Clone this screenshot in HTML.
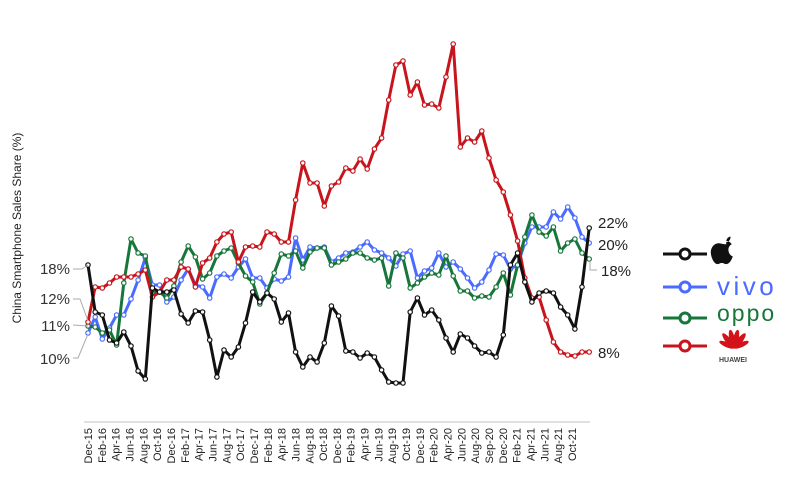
<!DOCTYPE html>
<html><head><meta charset="utf-8"><style>
html,body{margin:0;padding:0;background:#fff;}
svg{display:block;font-family:"Liberation Sans",Arial,sans-serif;}
</style></head><body>
<svg id="chart" width="800" height="486" viewBox="0 0 800 486">
<text transform="translate(21,228) rotate(-90)" text-anchor="middle" font-size="12" fill="#222">China Smartphone Sales Share (%)</text>
<line x1="84" y1="422" x2="590" y2="422" stroke="#e0e0e0" stroke-width="2"/>
<g id="xticks"></g>
<g id="series"></g>
<g font-size="15" fill="#333" text-anchor="end">
 <polyline points="73,269 82,269 88,265" fill="none" stroke="#aaa" stroke-width="1"/>
 <text x="70" y="274">18%</text>
 <polyline points="73,299 80,299 88,321" fill="none" stroke="#aaa" stroke-width="1"/>
 <text x="70" y="304">12%</text>
 <polyline points="73,325 88,326" fill="none" stroke="#aaa" stroke-width="1"/>
 <text x="70" y="331">11%</text>
 <polyline points="73,358 78,358 88,334" fill="none" stroke="#aaa" stroke-width="1"/>
 <text x="70" y="364">10%</text>
</g>
<g font-size="15" fill="#222">
 <text x="598" y="228">22%</text>
 <text x="598" y="250">20%</text>
 <polyline points="590,261 590,270 597,270" fill="none" stroke="#aaa" stroke-width="1"/>
 <text x="601" y="276">18%</text>
 <text x="598" y="358">8%</text>
</g>
<g>
 <g>
  <line x1="663" y1="254" x2="707" y2="254" stroke="#111" stroke-width="3"/>
  <circle cx="685" cy="254" r="5" fill="#fff" stroke="#111" stroke-width="3"/>
  <path transform="translate(-2,-1) scale(1.1) translate(-66,-23)" d="M728,246 c-3,0 -5,-1 -7,-1 c-4,0 -7,4 -7,8 c0,5 3,11 6,11 c2,0 2,-1 4,-1 c2,0 2,1 4,1 c3,0 5,-4 6,-7 c-3,-1 -4,-4 -4,-6 c0,-2 1,-4 3,-5 c-1,-2 -3,-3 -5,-3 z M728,244 c0,-3 2,-5 4,-5 c0,3 -2,5 -4,5 z" fill="#111"/>
 </g>
 <g>
  <line x1="663" y1="287" x2="707" y2="287" stroke="#4a6bff" stroke-width="3"/>
  <circle cx="685" cy="287" r="5" fill="#fff" stroke="#4a6bff" stroke-width="3"/>
  <text x="717" y="295" font-size="26" fill="#4a6bff" letter-spacing="3.5">vivo</text>
 </g>
 <g>
  <line x1="663" y1="318" x2="707" y2="318" stroke="#17763a" stroke-width="3"/>
  <circle cx="685" cy="318" r="5" fill="#fff" stroke="#17763a" stroke-width="3"/>
  <text x="717" y="321" font-size="23" fill="#17763a" letter-spacing="2">oppo</text>
 </g>
 <g>
  <line x1="663" y1="346" x2="707" y2="346" stroke="#c8141c" stroke-width="3"/>
  <circle cx="685" cy="346" r="5" fill="#fff" stroke="#c8141c" stroke-width="3"/>
  <g fill="#d3121a">
   <ellipse cx="734" cy="339" rx="2.8" ry="9.5" transform="rotate(-12 734 348)"/>
   <ellipse cx="734" cy="339" rx="2.8" ry="9.5" transform="rotate(12 734 348)"/>
   <ellipse cx="734" cy="339" rx="2.8" ry="9.5" transform="rotate(-38 734 348)"/>
   <ellipse cx="734" cy="339" rx="2.8" ry="9.5" transform="rotate(38 734 348)"/>
   <ellipse cx="734" cy="340" rx="2.5" ry="8" transform="rotate(-66 734 348)"/>
   <ellipse cx="734" cy="340" rx="2.5" ry="8" transform="rotate(66 734 348)"/>
  </g>
  <text x="733" y="362" font-size="7" font-weight="bold" text-anchor="middle" fill="#444">HUAWEI</text>
 </g>
</g>
</svg>
<script>
const tickLabels = ["Dec-15","Feb-16","Apr-16","Jun-16","Aug-16","Oct-16","Dec-16","Feb-17","Apr-17","Jun-17","Aug-17","Oct-17","Dec-17","Feb-18","Apr-18","Jun-18","Aug-18","Oct-18","Dec-18","Feb-19","Apr-19","Jun-19","Aug-19","Oct-19","Dec-19","Feb-20","Apr-20","Jun-20","Aug-20","Sep-20","Dec-20","Feb-21","Apr-21","Jun-21","Aug-21","Oct-21"];
const appleShare = [15.5,10.8,10.5,8.0,7.7,8.8,7.4,4.9,4.1,13.2,12.8,12.8,13.0,10.6,9.7,10.9,10.8,8.0,4.3,7.0,6.3,7.3,9.7,12.8,11.8,12.7,12.1,9.8,10.7,6.8,5.3,6.3,5.8,7.7,11.4,10.4,6.9,6.8,6.2,6.7,6.3,5.0,3.8,3.7,3.7,10.8,12.2,10.5,11.0,10.0,8.2,6.8,8.6,8.2,7.4,6.7,6.8,6.3,8.5,15.5,16.7,13.8,11.8,12.7,12.9,12.7,11.3,10.5,9.1,13.3,19.2];
const vivoShare = [8.7,10.3,8.1,9.2,10.5,10.5,12.1,14.0,16.2,13.5,13.5,11.8,12.3,14.0,15.1,13.5,13.3,12.2,14.3,14.6,14.2,15.3,16.1,14.2,14.2,13.2,14.1,13.9,14.3,18.2,16.0,17.3,17.2,17.3,15.8,16.2,16.7,16.8,17.3,17.8,17.0,16.7,16.2,15.4,16.6,16.9,14.2,14.9,15.2,16.7,15.3,15.8,15.1,14.2,13.2,13.8,15.0,16.6,16.5,15.1,15.5,17.7,19.3,19.3,19.3,20.8,20.1,21.3,20.2,18.3,17.7];
const oppoShare = [9.4,9.3,8.7,9.0,7.5,13.7,18.1,16.7,16.4,12.7,12.8,12.2,13.4,15.8,17.4,16.3,14.1,14.7,16.4,16.9,17.2,15.7,14.4,13.8,11.6,12.7,14.7,16.6,16.4,16.9,15.2,16.8,17.2,17.2,15.5,15.8,16.1,16.7,16.7,16.2,16.0,16.2,13.4,16.7,16.2,13.2,13.7,14.3,14.7,14.5,16.4,14.4,12.9,12.9,12.2,12.4,12.3,13.3,14.7,12.5,15.5,18.3,20.5,18.8,18.4,19.3,16.9,17.7,18.1,16.7,16.1];
const huaweiShare = [9.8,13.3,13.2,13.7,14.3,14.3,14.3,14.6,15.0,12.3,12.8,14.0,14.0,15.3,15.1,13.3,15.7,16.2,17.8,18.6,18.8,15.8,17.3,17.4,17.3,18.8,18.6,17.8,17.8,22.0,25.7,23.7,23.7,21.4,23.4,23.8,25.2,24.9,26.1,25.1,27.1,28.2,32.0,35.5,35.9,32.5,33.8,31.5,31.6,31.2,34.3,37.6,27.3,28.2,27.8,28.9,26.2,24.0,22.8,20.5,17.9,14.2,12.2,12.3,10.0,7.8,6.8,6.5,6.4,6.8,6.8];

const NS = "http://www.w3.org/2000/svg";
const x0 = 88, xStep = 7.16;
function xScale(i){ return x0 + i * xStep; }
function yScale(v){ return 420 - v * 10; }
function tickX(k){ return 88 + k * (484 / (tickLabels.length - 1)); }

const tg = document.getElementById('xticks');
tickLabels.forEach((lab, k) => {
  const t = document.createElementNS(NS, 'text');
  const x = tickX(k);
  t.setAttribute('transform', `translate(${x + 4},428) rotate(-90)`);
  t.setAttribute('text-anchor', 'end');
  t.setAttribute('font-size', '11');
  t.setAttribute('fill', '#222');
  t.textContent = lab;
  
  
  tg.appendChild(t);
});

const sg = document.getElementById('series');
function drawSeries(values, color, name) {
  const g = document.createElementNS(NS, 'g');
  
  
  const pl = document.createElementNS(NS, 'polyline');
  pl.setAttribute('points', values.map((v, i) => xScale(i).toFixed(1) + ',' + yScale(v).toFixed(1)).join(' '));
  pl.setAttribute('fill', 'none');
  pl.setAttribute('stroke', color);
  pl.setAttribute('stroke-width', '3');
  pl.setAttribute('stroke-linejoin', 'round');
  
  
  g.appendChild(pl);
  values.forEach((v, i) => {
    const c = document.createElementNS(NS, 'circle');
    c.setAttribute('cx', xScale(i).toFixed(1));
    c.setAttribute('cy', yScale(v).toFixed(1));
    c.setAttribute('r', '2.2');
    c.setAttribute('fill', '#fff');
    c.setAttribute('stroke', color);
    c.setAttribute('stroke-width', '1.2');
    
    
    g.appendChild(c);
  });
  sg.appendChild(g);
}
drawSeries(vivoShare, '#4a6bff', 'vivo');
drawSeries(oppoShare, '#17763a', 'oppo');
drawSeries(huaweiShare, '#c8141c', 'huawei');
drawSeries(appleShare, '#111111', 'apple');
</script>
</body></html>
